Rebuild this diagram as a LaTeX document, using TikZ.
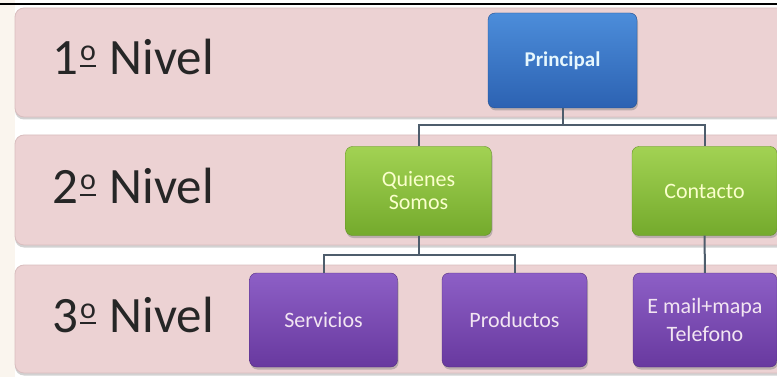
\documentclass[tikz,border=0pt]{standalone}
\usepackage{fontspec}
\setmainfont{Carlito}
\usetikzlibrary{shadows}

\definecolor{bandpink}{HTML}{ECD2D3}
\definecolor{bandedge}{HTML}{D9BEBF}
\definecolor{leftstrip}{HTML}{FAF5EE}
\definecolor{bluetop}{HTML}{4C8DDA}
\definecolor{bluebot}{HTML}{2C62B2}
\definecolor{greentop}{HTML}{A2D253}
\definecolor{greenbot}{HTML}{74AA2C}
\definecolor{purpletop}{HTML}{8D5FC6}
\definecolor{purplebot}{HTML}{68399F}
\definecolor{linkgray}{HTML}{4E5D6C}

% ordinal sign with underline, as in the level labels
\newcommand{\ordsign}{\hspace{2pt}\raisebox{14pt}{\rlap{\rule[-6pt]{16pt}{2.2pt}}\fontsize{30}{30}\selectfont o}\hspace{2pt}}

\begin{document}
\begin{tikzpicture}[x=1pt, y=-1pt,
  band/.style={fill=bandpink, draw=bandedge, line width=0.8pt, rounded corners=9pt,
               drop shadow={shadow xshift=0pt, shadow yshift=-2.5pt, opacity=0.35}},
  lvl/.style={anchor=base west, inner sep=0pt, text=black!85,
              font=\fontsize{51}{60}\selectfont},
  box/.style={rectangle, rounded corners=7pt, align=center, inner sep=2pt,
              font=\fontsize{22}{23}\selectfont,
              drop shadow={shadow xshift=1pt, shadow yshift=-2.5pt, opacity=0.45}},
  bluebox/.style={box, top color=bluetop, bottom color=bluebot, draw=bluebot!80!black,
                  text=cyan!10, font=\fontsize{21}{23}\selectfont\bfseries},
  greenbox/.style={box, top color=greentop, bottom color=greenbot, draw=greenbot!85!black,
                   text=green!10!yellow!20},
  purplebox/.style={box, top color=purpletop, bottom color=purplebot, draw=purplebot!80!black,
                    text=violet!10},
  link/.style={draw=linkgray, line width=2pt}
]
\useasboundingbox (0,0) rectangle (777,377);
\clip (0,0) rectangle (777,377);
\fill[white] (0,0) rectangle (777,377);
\fill[leftstrip] (0,0) rectangle (15,377);
\draw[black, line width=1.5pt] (0,4) -- (777,4);

% Level bands
\draw[band] (15,8) rectangle (795,117);
\draw[band] (15,135) rectangle (795,245);
\draw[band] (15,265) rectangle (795,373);

\node[lvl] (l1) at (52,75)  {1\ordsign\ Nivel};
\node[lvl] (l2) at (52,204) {2\ordsign\ Nivel};
\node[lvl] (l3) at (52,332) {3\ordsign\ Nivel};

% Boxes
\node[bluebox, minimum width=149pt, minimum height=95pt] (principal) at (562.5,60.5) {Principal};
\node[greenbox, minimum width=146pt, minimum height=89pt] (quienes) at (418.5,191) {Quienes\\Somos};
\node[greenbox, minimum width=145pt, minimum height=89pt] (contacto) at (704.5,191) {Contacto};
\node[purplebox, minimum width=148pt, minimum height=94pt] (servicios) at (323.5,320) {Servicios};
\node[purplebox, minimum width=145pt, minimum height=94pt] (productos) at (514.5,320) {Productos};
\node[purplebox, minimum width=144pt, minimum height=94pt,
      font=\fontsize{22}{28}\selectfont] (email) at (705,320) {E mail+mapa\\Telefono};

% Connectors
\draw[link] (principal.south) -- ++(0,17) -| (quienes.north);
\draw[link] (principal.south) -- ++(0,17) -| (contacto.north);
\draw[link] (quienes.south) -- ++(0,19) -| (servicios.north);
\draw[link] (quienes.south) -- ++(0,19) -| (productos.north);
\draw[link] (contacto) -- (email);
\end{tikzpicture}
\end{document}
